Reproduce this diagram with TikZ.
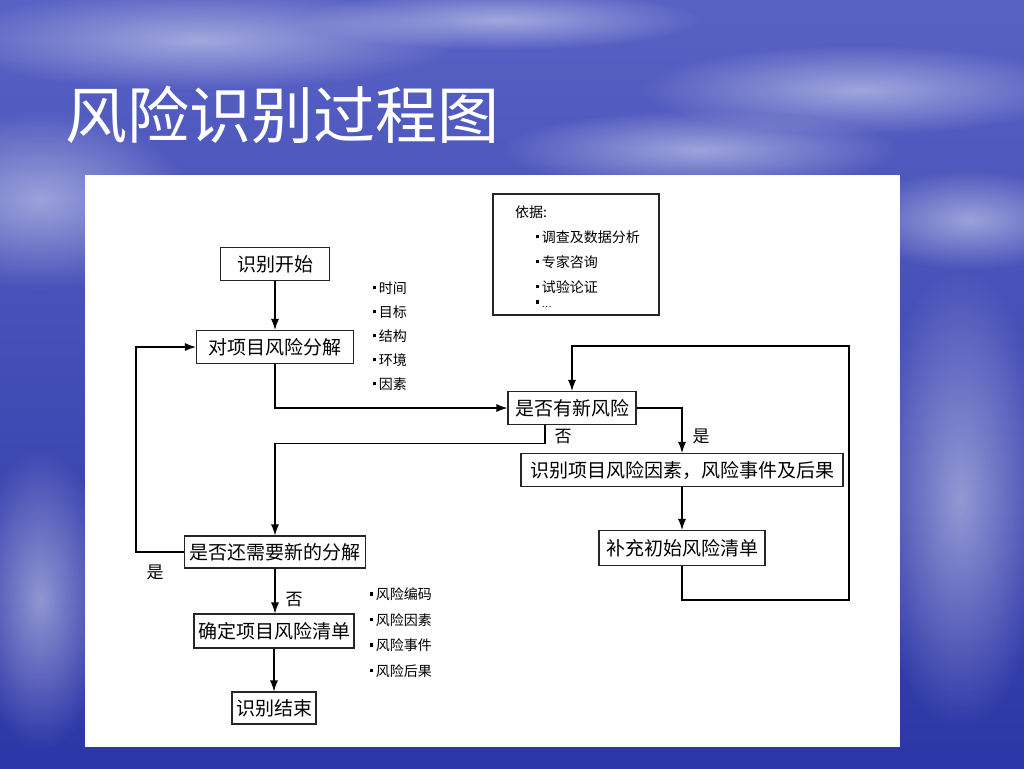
\documentclass[tikz,border=0pt]{standalone}
\usepackage{fontspec}
\setmainfont{Noto Sans CJK SC}
\usetikzlibrary{arrows.meta,fadings}
\definecolor{skytop}{RGB}{88,98,196}
\definecolor{skylow}{RGB}{44,54,166}
\tikzfading[name=cloudfade,inner color=transparent!55,outer color=transparent!100]
\newcommand{\blt}{\rule[4pt]{2.6pt}{3.4pt}\hspace{3pt}}
\begin{document}
\begin{tikzpicture}[x=1pt,y=-1pt,
  box/.style={draw=black!85,line width=1.1pt,fill=white,inner sep=0pt,
    minimum height=33pt,font=\fontsize{19}{19}\selectfont},
  arr/.style={-{Latex[length=11pt,width=8pt]},line width=1.1pt},
  lbl/.style={font=\fontsize{17}{17}\selectfont,inner sep=0pt},
  note/.style={font=\fontsize{14}{14}\selectfont,anchor=west,inner sep=0pt},
  cloud/.style={white,path fading=cloudfade}]
  \useasboundingbox (0,0) rectangle (1024,768);
  % sky background
  \shade[top color=skytop,bottom color=skylow] (0,0) rectangle (1024,768);
  \fill[cloud] (200,40) ellipse (260 and 50);
  \fill[cloud] (500,20) ellipse (200 and 30);
  \fill[cloud] (860,90) ellipse (220 and 45);
  \fill[cloud] (40,200) ellipse (150 and 90);
  \fill[cloud] (700,150) ellipse (200 and 40);
  \fill[cloud] (970,220) ellipse (120 and 50);
  \fill[cloud] (960,500) ellipse (90 and 230);
  \fill[cloud] (40,600) ellipse (70 and 150);
  % title
  \node[anchor=west,inner sep=0pt,text=white,font=\fontsize{62}{62}\selectfont] (title) at (65,115) {风险识别过程图};
  % white panel
  \fill[white] (85,175) rectangle (900,747);
  % boxes
  \node[box,minimum width=109pt] (start) at (275,264) {识别开始};
  \node[box,minimum width=157pt] (decomp) at (275,347) {对项目风险分解};
  \node[box,minimum width=128pt] (newrisk) at (572,408) {是否有新风险};
  \node[box,minimum width=322pt] (ident) at (682,470) {识别项目风险因素，风险事件及后果};
  \node[box,minimum width=166pt,minimum height=35pt] (supp) at (682,548) {补充初始风险清单};
  \node[box,minimum width=181pt,minimum height=32pt] (again) at (275,552) {是否还需要新的分解};
  \node[box,minimum width=160pt,minimum height=34pt] (fix) at (274,631) {确定项目风险清单};
  \node[box,minimum width=84pt,minimum height=32pt] (finish) at (274,708) {识别结束};
  \node[draw=black!85,line width=1.1pt,minimum width=166pt,minimum height=121pt,inner sep=0pt] (basis) at (576,254.5) {};
  % notes
  \foreach \t [count=\i] in {时间,目标,结构,环境,因素}
    \node[note] (dim\i) at (373,{264+24*\i}) {\blt\t};
  \node[note] (basishead) at (515,212) {依据:};
  \foreach \t [count=\i] in {调查及数据分析,专家咨询,试验论证}
    \node[note] (basis\i) at (536,{212+25*\i}) {\blt\t};
  \node[note] (basis4) at (536,304) {\blt\fontsize{9}{9}\selectfont …};
  \foreach \t [count=\i] in {风险编码,风险因素,风险事件,风险后果}
    \node[note] (item\i) at (370,{569+25.5*\i}) {\blt\t};
  % connectors
  \coordinate (loopB) at (849,600);
  \coordinate (loopT) at (849,346);
  \draw[arr] (start) -- (decomp);
  \draw[arr] (decomp.south) |- (newrisk.west);
  \draw[arr] (newrisk.east) -| (ident.north);
  \draw[arr] (ident) -- (supp);
  \draw[arr] (supp.south) |- (loopB) -- (loopT) -| (newrisk.north);
  \draw[arr] ([xshift=-27pt]newrisk.south) -- ++(0,18) -| (again.north);
  \draw[arr] (again.west) -- ++(-48,0) |- (decomp.west);
  \draw[arr] (again.south) -- (again.south |- fix.north);
  \draw[arr] (fix) -- (finish);
  % labels
  \node[lbl] (yes1) at (701,436) {是};
  \node[lbl] (no1) at (563,437) {否};
  \node[lbl] (yes2) at (155,572) {是};
  \node[lbl] (no2) at (294,600) {否};
\end{tikzpicture}
\end{document}
